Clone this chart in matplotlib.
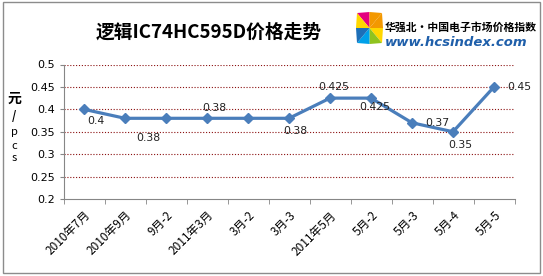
import matplotlib
matplotlib.use("Agg")
import matplotlib.pyplot as plt
from matplotlib.patches import Rectangle, Polygon
import numpy as np

plt.rcParams['font.family'] = ['Noto Sans CJK SC', 'DejaVu Sans']

# data
categories = ["2010年7月", "2010年9月", "9月-2", "2011年3月", "3月-2", "3月-3",
              "2011年5月", "5月-2", "5月-3", "5月-4", "5月-5"]
prices = [0.4, 0.38, 0.38, 0.38, 0.38, 0.38, 0.425, 0.425, 0.37, 0.35, 0.45]
labels = {0: "0.4", 1: "0.38", 3: "0.38", 5: "0.38", 6: "0.425",
          7: "0.425", 8: "0.37", 9: "0.35", 10: "0.45"}
# label offsets in pixels (x right, y up)
offsets = {0: (12, -12), 1: (23, -20), 3: (7, 10), 5: (6, -13), 6: (4, 11),
           7: (4, -9), 8: (25, 0), 9: (7, -13), 10: (25, 0)}
yticks = [0.2, 0.25, 0.3, 0.35, 0.4, 0.45, 0.5]

W, H = 543, 276
fig = plt.figure(figsize=(W / 100, H / 100), dpi=100)
fig.patch.set_facecolor("white")

def px(x, y):
    return x / W, 1 - y / H

# outer border
fig.patches.append(Rectangle(px(2.5, 273), 537 / W, 271 / H, transform=fig.transFigure,
                             fill=False, edgecolor="#8c8c8c", linewidth=1.0))

ax = fig.add_axes([63.5 / W, 1 - 199 / H, 451 / W, 134.5 / H])
x = np.arange(len(categories))
ax.plot(x, prices, color="#4A7EBB", linewidth=2.3, marker="D", markersize=5.5,
        markeredgecolor="#4A7EBB", zorder=3)
for i, txt in labels.items():
    ax.annotate(txt, (x[i], prices[i]), textcoords="offset pixels", xytext=offsets[i],
                ha="center", va="center", fontsize=7.8, family="DejaVu Sans", color="#222222")

ax.set_xlim(-0.5, len(categories) - 0.5)
ax.set_ylim(0.2, 0.5)
ax.set_yticks(yticks)
ax.set_yticklabels([f"{v:g}" for v in yticks], family="DejaVu Sans", fontsize=8)
ax.set_xticks(x)
ax.set_xticklabels(categories, rotation=45, ha="right", rotation_mode="anchor", fontsize=8.5)
ax.set_xticks(np.arange(-0.5, len(categories)), minor=True)
ax.tick_params(axis="x", which="major", length=0, pad=7)
ax.tick_params(axis="x", which="minor", length=3.5, color="#868686", direction="out")
ax.tick_params(axis="y", length=3, color="#868686", pad=3)
for v in yticks[1:]:
    ax.axhline(v, color="#8B1010", linestyle=(0, (1, 1.6)), linewidth=0.8, zorder=1)
for s in ["top", "right"]:
    ax.spines[s].set_visible(False)
ax.spines["left"].set_color("#868686")
ax.spines["bottom"].set_color("#868686")

# title
fig.text(*px(209, 32.5), "逻辑IC74HC595D价格走势", ha="center", va="center",
         fontsize=13.5, fontweight="bold")

# y label stacked
ylab = ["元", "/", "p", "c", "s"]
ylab_y = [99, 117, 132, 146, 158]
for ch, yy in zip(ylab, ylab_y):
    fig.text(*px(14, yy), ch, ha="center", va="center",
             fontsize=10 if ch == "元" else 8,
             fontweight="bold" if ch in "元/" else "normal")

# logo pinwheel: triangles from centre to rectangle outline
cx, cy = 369.5, 28
x0, x1, y0, y1 = 357, 382, 13, 43
rim = [(x0, y0), (cx, y0 - 1), (x1, y0), (x1 + 1, cy), (x1, y1), (cx, y1 + 1), (x0, y1), (x0 - 1, cy)]
cols = ["#E4007F", "#F39800", "#F39800", "#FFD700", "#8FC31F", "#00A0E9", "#1D6FB8", "#FFD700"]
for k, c in enumerate(cols):
    a, b = rim[k], rim[(k + 1) % 8]
    pts = [px(cx, cy), px(*a), px(*b)]
    fig.patches.append(Polygon(pts, closed=True, transform=fig.transFigure,
                               facecolor=c, edgecolor="none"))
fig.text(*px(385, 27.5), "华强北·中国电子市场价格指数", ha="left", va="center",
         fontsize=7.8, fontweight="bold")
fig.text(*px(385, 42.5), "www.hcsindex.com", ha="left", va="center", fontsize=9.5,
         fontweight="bold", fontstyle="italic", color="#1F5FAA", family="DejaVu Sans")

fig.savefig("out.png", dpi=100)
